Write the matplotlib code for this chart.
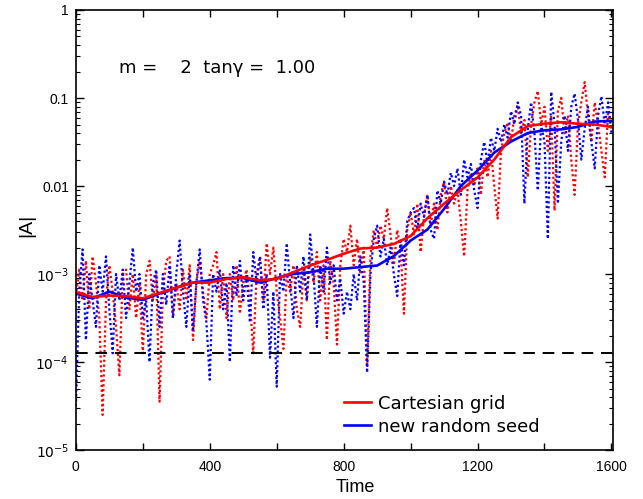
import numpy as np
import matplotlib
matplotlib.use("Agg")
import matplotlib.pyplot as plt
from matplotlib.ticker import FixedLocator, FuncFormatter

plt.rcParams['font.family'] = ['Liberation Sans', 'DejaVu Sans']

# noisy runs, sampled every 10 time units, stored as log10|A|
t_noisy = np.arange(0, 1610, 10)
red_noisy_log = [
    -3.25, -2.95, -3.3, -2.85, -3.4, -2.8, -3.1, -3.5, -4.6, -3.3,
    -2.9, -3.2, -3.6, -4.15, -3.0, -2.95, -3.4, -3.0, -3.5, -3.1,
    -3.9, -3.0, -2.85, -3.3, -3.0, -4.45, -3.2, -2.85, -2.8, -3.5,
    -3.1, -3.4, -2.95, -3.3, -2.9, -3.75, -3.1, -2.85, -3.2, -3.5,
    -3.0, -2.9, -2.75, -3.4, -3.0, -3.5, -3.0, -3.3, -2.9, -3.45,
    -3.1, -2.95, -3.3, -3.9, -3.0, -2.8, -3.3, -2.65, -3.0, -2.7,
    -3.2, -3.5, -3.85, -3.0, -3.2, -2.9, -3.4, -3.6, -2.95, -3.3,
    -2.8, -3.1, -2.75, -3.3, -2.9, -3.75, -2.85, -3.1, -3.8, -2.9,
    -2.6, -2.75, -2.45, -2.9, -2.6, -3.0, -2.7, -4.05, -2.8, -2.5,
    -2.7, -2.45, -2.6, -2.25, -2.55, -2.9, -2.5, -2.7, -3.45, -2.5,
    -2.3, -2.55, -2.2, -2.75, -2.35, -2.1, -2.45, -2.2, -2.5, -2.1,
    -1.95, -2.3, -2.0, -2.2, -2.05, -2.4, -2.8, -2.05, -1.85, -2.0,
    -1.8, -2.1, -1.7, -1.9, -1.6, -2.0, -2.37, -1.6, -1.4, -1.28,
    -1.5, -1.2, -1.08, -1.4, -1.25, -1.9, -1.3, -1.05, -0.92, -1.3,
    -1.1, -1.6, -1.2, -2.28, -1.15, -1.0, -1.4, -1.2, -1.7, -2.1,
    -1.3, -1.05, -0.82, -1.2, -1.5, -1.05, -1.3, -1.6, -1.9, -1.15,
    -1.35,
]
blue_noisy_log = [
    -4.5, -3.2, -2.72, -3.75, -3.0, -3.3, -3.6, -2.9, -3.2, -2.8,
    -3.4, -3.9, -3.0, -3.3, -2.95, -3.5, -3.1, -2.7, -3.2, -3.0,
    -3.5, -3.3, -4.0, -3.1, -2.95, -3.6, -3.0, -3.35, -2.9, -3.5,
    -3.0, -2.62, -3.2, -3.6, -3.0, -3.65, -3.1, -2.72, -3.3, -3.55,
    -4.2, -3.0, -3.2, -2.95, -3.4, -3.1, -4.0, -2.9, -3.25, -2.85,
    -3.3, -3.0, -3.55, -2.75, -3.1, -2.8, -3.4, -3.0, -3.95, -3.2,
    -4.28, -3.0, -3.2, -2.65, -3.1, -3.5, -2.9, -3.2, -2.8, -3.3,
    -2.55, -3.0, -3.6, -2.9, -3.2, -2.7, -3.1, -2.9, -3.3, -3.05,
    -3.45, -3.2, -3.4, -3.0, -3.3, -2.8, -3.1, -4.12, -3.0, -2.6,
    -2.45, -2.8, -2.6, -2.9, -2.7, -3.0, -3.25, -2.6, -2.9, -2.4,
    -2.3, -2.25, -2.5, -2.2, -2.35, -2.1, -2.5, -2.6, -2.05, -2.2,
    -1.95, -2.1, -1.85, -2.0, -1.8, -2.1, -1.7, -1.9, -1.75, -2.05,
    -2.25, -1.7, -1.5, -1.75, -1.45, -1.6, -1.35, -1.5, -1.3, -1.45,
    -1.15, -1.3, -1.05, -1.2, -2.2, -1.35, -1.05, -1.4, -2.05, -1.3,
    -1.5, -2.6, -0.93, -1.3, -2.2, -1.5, -1.2, -1.6, -1.1, -0.95,
    -1.25, -1.7, -1.35, -1.1, -1.5, -1.8, -1.2, -0.98, -1.3, -1.05,
    -1.4,
]

# running means, every 50 time units
t_smooth = np.arange(0, 1650, 50)
red_smooth = [6.2e-4, 5.5e-4, 5.7e-4, 5.6e-4, 5.3e-4, 6.1e-4, 7.0e-4, 8.0e-4,
              8.0e-4, 8.8e-4, 9.2e-4, 8.5e-4, 8.8e-4, 1.05e-3, 1.25e-3, 1.45e-3,
              1.7e-3, 1.95e-3, 2.0e-3, 2.2e-3, 2.7e-3, 4.3e-3, 6.3e-3, 9.0e-3,
              0.0125, 0.020, 0.036, 0.048, 0.051, 0.053, 0.051, 0.050, 0.047]
blue_smooth = [6.0e-4, 5.3e-4, 6.3e-4, 5.4e-4, 5.1e-4, 6.0e-4, 7.0e-4, 8.0e-4,
               8.5e-4, 9.0e-4, 9.0e-4, 8.0e-4, 9.0e-4, 1.0e-3, 1.05e-3, 1.15e-3,
               1.15e-3, 1.2e-3, 1.25e-3, 1.6e-3, 2.4e-3, 3.2e-3, 5.5e-3, 0.010,
               0.015, 0.024, 0.032, 0.040, 0.043, 0.044, 0.047, 0.054, 0.055]

threshold = 1.26e-4
legend_labels = ["Cartesian grid", "new random seed"]

fig = plt.figure(figsize=(6.43, 4.99), dpi=100)
ax = fig.add_axes([0.118, 0.098, 0.835, 0.882])

dot = (0, (1, 1.2))
ax.plot(t_noisy, 10 ** np.array(red_noisy_log), color="red", lw=1.6, ls=dot)
ax.plot(t_noisy, 10 ** np.array(blue_noisy_log), color="blue", lw=1.6, ls=dot)
ax.axhline(threshold, color="black", lw=1.4, ls=(0, (6, 4)))
ax.plot(t_smooth, blue_smooth, color="blue", lw=1.9, label=legend_labels[1])
ax.plot(t_smooth, red_smooth, color="red", lw=1.9, label=legend_labels[0])

ax.set_yscale("log")
ax.set_ylim(1e-5, 1)
ax.set_xlim(0, 1604)

ax.xaxis.set_major_locator(FixedLocator([0, 400, 800, 1200, 1600]))
ax.xaxis.set_minor_locator(FixedLocator([200, 600, 1000, 1400]))

ylabs = {1: "1", 0.1: "0.1", 0.01: "0.01"}
def yfmt(v, pos):
    for k, s in ylabs.items():
        if abs(v - k) / k < 1e-6:
            return s
    return r"$10^{%d}$" % int(round(np.log10(v)))
ax.yaxis.set_major_formatter(FuncFormatter(yfmt))

ax.tick_params(which="both", direction="in", top=True, right=True, labelsize=10)
ax.tick_params(axis="x", which="both", length=5, width=1, pad=7)
ax.tick_params(axis="y", which="major", length=6, width=1, pad=5)
ax.tick_params(axis="y", which="minor", length=3, width=0.8)
for s in ax.spines.values():
    s.set_linewidth(1.2)

ax.set_xlabel("Time", fontsize=13)
ax.xaxis.set_label_coords(0.52, -0.066)
ax.set_ylabel("|A|", fontsize=14, va="center")
ax.yaxis.set_label_coords(-0.091, 0.51)

ax.text(0.080, 0.857, "m =    2  tan\u03b3 =  1.00", transform=ax.transAxes,
        fontsize=13, family="DejaVu Sans", va="baseline")

h, l = ax.get_legend_handles_labels()
ax.legend(h[::-1], l[::-1], loc="lower left", bbox_to_anchor=(0.5, 0.033),
          borderaxespad=0, borderpad=0, frameon=False,
          prop={"family": "DejaVu Sans", "size": 13},
          handlelength=1.5, handletextpad=0.35, labelspacing=0.28)

fig.savefig("out.png", dpi=100)
